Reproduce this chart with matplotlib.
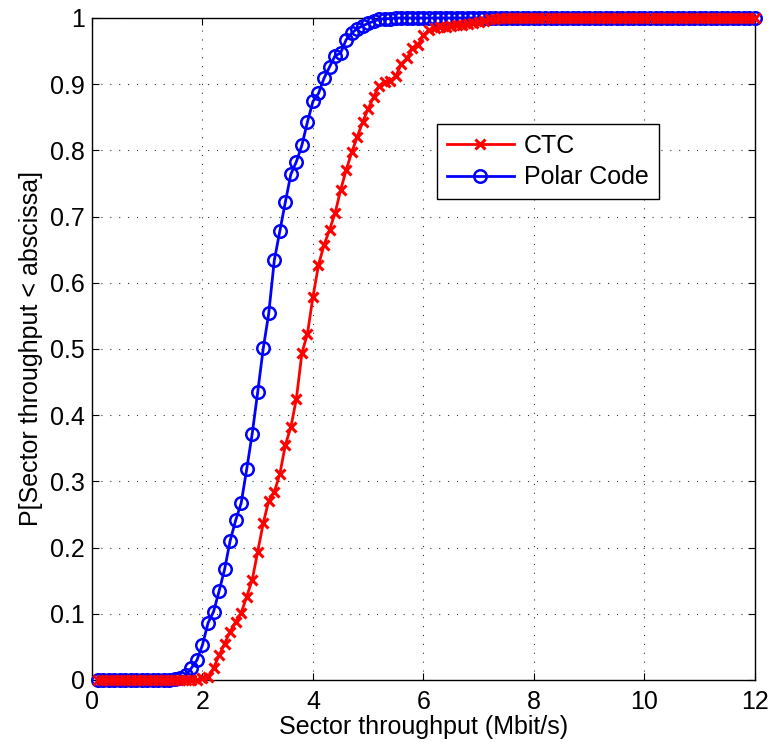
import matplotlib
matplotlib.use("Agg")
import matplotlib.pyplot as plt
import numpy as np

plt.rcParams['font.family'] = ['Liberation Sans', 'DejaVu Sans']

# Throughput grid (Mbit/s), 0.1 .. 12.0
x_vals = [round(0.1 * i, 1) for i in range(1, 121)]

# Polar code CDF values, from x=0.1
polar_head = [0.0] * 14 + [0.001, 0.003, 0.007, 0.018, 0.030, 0.053, 0.086, 0.103,
              0.134, 0.167, 0.210, 0.241, 0.267, 0.318, 0.372, 0.435, 0.501,
              0.554, 0.634, 0.678, 0.722, 0.764, 0.783, 0.808, 0.843, 0.874,
              0.886, 0.909, 0.926, 0.943, 0.947, 0.967, 0.977, 0.984, 0.988,
              0.992, 0.995, 0.998, 0.999, 0.999]
polar_cdf = polar_head + [1.0] * (120 - len(polar_head))

# CTC CDF values, from x=0.1
ctc_head = [0.0] * 19 + [0.003, 0.005, 0.018, 0.037, 0.055, 0.073, 0.088, 0.101,
            0.126, 0.151, 0.194, 0.237, 0.271, 0.284, 0.311, 0.355, 0.382,
            0.425, 0.494, 0.523, 0.579, 0.627, 0.657, 0.680, 0.705, 0.740,
            0.770, 0.797, 0.820, 0.843, 0.863, 0.881, 0.898, 0.904, 0.905,
            0.912, 0.931, 0.939, 0.954, 0.959, 0.974, 0.982, 0.985, 0.986,
            0.987, 0.988, 0.989, 0.990, 0.991, 0.992, 0.994, 0.996, 0.998,
            0.999]
ctc_cdf = ctc_head + [1.0] * (120 - len(ctc_head))

series_labels = ["CTC", "Polar Code"]
x_ticks = [0, 2, 4, 6, 8, 10, 12]
y_ticks = [round(0.1 * i, 1) for i in range(11)]

FS = 18

fig = plt.figure(figsize=(7.71, 7.46), dpi=100)
ax = fig.add_axes([0.1193, 0.0885, 0.8599, 0.8874])

l2, = ax.plot(x_vals, polar_cdf, color='#0000ff', lw=2, marker='o', ms=9,
              mfc='none', mew=1.8, label=series_labels[1], zorder=3, clip_on=False)
l1, = ax.plot(x_vals, ctc_cdf, color='#ff0000', lw=2, marker='x', ms=6.5,
              mew=2.2, label=series_labels[0], zorder=4, clip_on=False)

ax.set_xlim(0, 12)
ax.set_ylim(0, 1)
ax.set_xticks(x_ticks)
ax.set_yticks(y_ticks)
ax.set_xticklabels([str(t) for t in x_ticks])
ax.set_yticklabels(['0'] + [f"{t:g}" for t in y_ticks[1:-1]] + ['1'])
ax.tick_params(direction='in', labelsize=FS, length=5, top=True, right=True, pad=5)
ax.tick_params(axis='x', pad=7)
ax.grid(True, color='black', linestyle=(0, (1, 7)), linewidth=0.8, alpha=0.8)
for s in ax.spines.values():
    s.set_linewidth(1.0)

ax.set_xlabel("Sector throughput (Mbit/s)", fontsize=FS, labelpad=1)
ax.set_ylabel("P[Sector throughput < abscissa]", fontsize=FS, labelpad=5)

leg = ax.legend(handles=[l1, l2], loc='upper left', bbox_to_anchor=(0.52, 0.84),
                fontsize=FS, fancybox=False, framealpha=1, edgecolor='black',
                borderpad=0.4, handlelength=2.7, handletextpad=0.4,
                labelspacing=0.3, borderaxespad=0)
leg.get_frame().set_linewidth(1.0)

fig.savefig("out.png", dpi=100)
